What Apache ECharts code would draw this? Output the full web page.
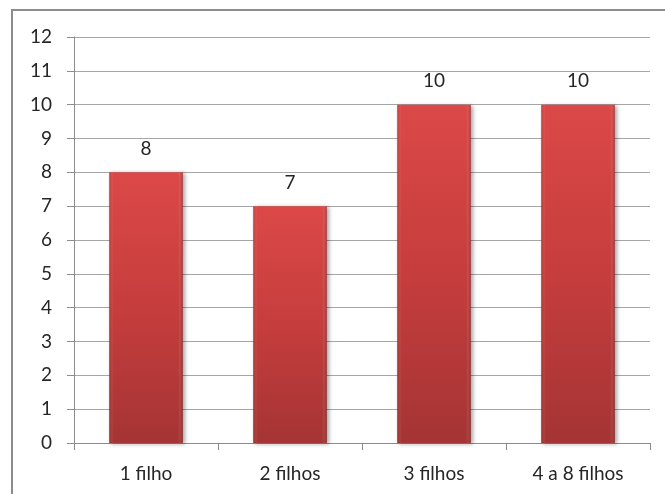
<!DOCTYPE html>
<html>
<head>
<meta charset="utf-8">
<script src="https://cdn.jsdelivr.net/npm/echarts@6/dist/echarts.min.js"></script>
<style>
  html, body { margin: 0; padding: 0; background: #fff; }
  #chart { width: 665px; height: 494px; }
</style>
</head>
<body>
<div id="chart"></div>
<script>
// Number of respondents by number of children
const categories = ['1 filho', '2 filhos', '3 filhos', '4 a 8 filhos'];
const values = [8, 7, 10, 10];
const yMin = 0;
const yMax = 12;
const yStep = 1;

const FONT = 'Lato, "Open Sans", sans-serif';

const chart = echarts.init(document.getElementById('chart'), null, { renderer: 'canvas' });

chart.setOption({
  backgroundColor: '#ffffff',
  animation: false,
  graphic: [{
    type: 'rect',
    shape: { x: 12, y: 10, width: 700, height: 520 },
    style: { fill: 'none', stroke: '#8c8c8c', lineWidth: 2 },
    z: -1
  }],
  grid: { left: 74, top: 37, right: 15, bottom: 51, containLabel: false },
  xAxis: {
    type: 'category',
    data: categories,
    axisLine: { lineStyle: { color: '#8c8c8c', width: 1 } },
    axisTick: { show: true, length: 7, alignWithLabel: false, lineStyle: { color: '#8c8c8c' } },
    axisLabel: { color: '#262626', fontSize: 19, fontFamily: FONT, margin: 21 }
  },
  yAxis: {
    type: 'value',
    min: yMin,
    max: yMax,
    interval: yStep,
    axisLine: { show: true, lineStyle: { color: '#8c8c8c', width: 1 } },
    axisTick: { show: true, length: 7, lineStyle: { color: '#8c8c8c' } },
    axisLabel: { color: '#262626', fontSize: 19, fontFamily: FONT, margin: 22 },
    splitLine: { show: true, lineStyle: { color: '#a6a6a6', width: 1 } }
  },
  series: [
    {
      type: 'bar',
      data: values,
      barWidth: '51%',
      itemStyle: {
        color: new echarts.graphic.LinearGradient(0, 0, 0, 1, [
          { offset: 0, color: '#dc4848' },
          { offset: 0.5, color: '#c63d3d' },
          { offset: 1, color: '#a53434' }
        ]),
        shadowColor: 'rgba(0,0,0,0.35)',
        shadowBlur: 4,
        shadowOffsetX: 2,
        shadowOffsetY: 1
      },
      label: {
        show: true,
        position: 'top',
        distance: 14,
        color: '#262626',
        fontSize: 19,
        fontFamily: FONT
      }
    },
    {
      // edge shading overlay for a rounded, bevelled look
      type: 'bar',
      data: values,
      barWidth: '51%',
      barGap: '-100%',
      silent: true,
      itemStyle: {
        color: new echarts.graphic.LinearGradient(0, 0, 1, 0, [
          { offset: 0, color: 'rgba(90,0,0,0.25)' },
          { offset: 0.06, color: 'rgba(255,255,255,0.0)' },
          { offset: 0.94, color: 'rgba(255,255,255,0.0)' },
          { offset: 1, color: 'rgba(70,0,0,0.35)' }
        ])
      }
    }
  ]
});
</script>
</body>
</html>
